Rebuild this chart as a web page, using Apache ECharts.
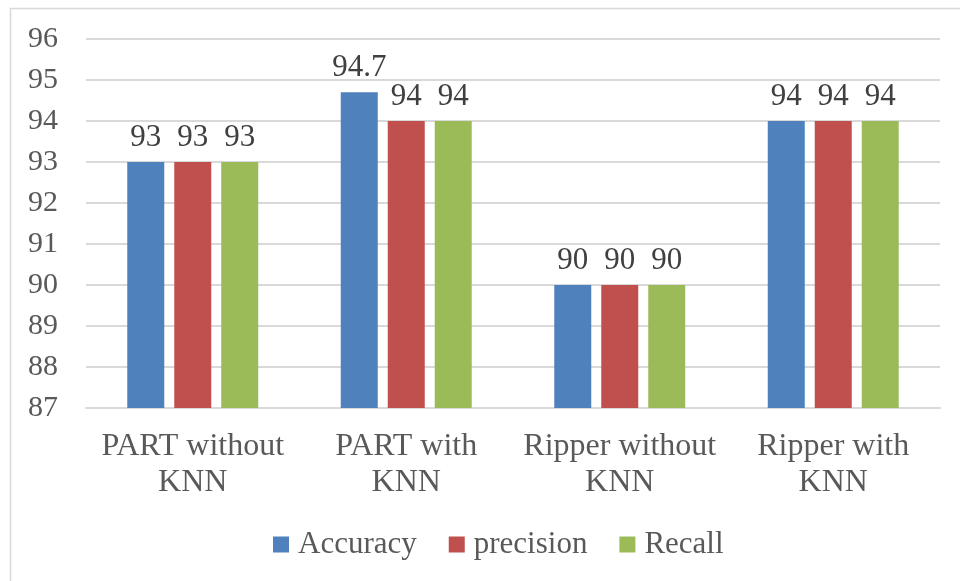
<!DOCTYPE html>
<html>
<head>
<meta charset="utf-8">
<script src="https://cdn.jsdelivr.net/npm/echarts@6/dist/echarts.min.js"></script>
<style>
  html, body { margin: 0; padding: 0; background: #fff; }
  #chart { width: 960px; height: 581px; }
</style>
</head>
<body>
<div id="chart"></div>
<script>
var categories = ['PART without\nKNN', 'PART with\nKNN', 'Ripper without\nKNN', 'Ripper with\nKNN'];
var accuracy = [93, 94.7, 90, 94];
var precision = [93, 94, 90, 94];
var recall = [93, 94, 90, 94];
var seriesNames = ['Accuracy', 'precision', 'Recall'];
var colors = ['#4F81BD', '#C0504D', '#9BBB59'];

var chartDom = document.getElementById('chart');
var myChart = echarts.init(chartDom);
var font = 'Liberation Serif, Times New Roman, serif';

function barSeries(name, data, color) {
  return {
    name: name,
    type: 'bar',
    data: data,
    barWidth: 37,
    barGap: '27%',
    itemStyle: { color: color },
    label: {
      show: true,
      position: 'top',
      distance: 9,
      color: '#404040',
      fontFamily: font,
      fontSize: 31
    }
  };
}

var option = {
  animation: false,
  color: colors,
  textStyle: { fontFamily: font },
  graphic: [{
    type: 'rect',
    shape: { x: 10.5, y: 8.5, width: 960, height: 600 },
    style: { fill: 'none', stroke: '#D9D9D9', lineWidth: 1.5 },
    silent: true
  }],
  grid: { left: 86, right: 20, top: 39, bottom: 173 },
  legend: {
    data: seriesNames,
    bottom: 16,
    left: 268,
    itemWidth: 16,
    itemHeight: 16,
    itemGap: 32,
    icon: 'rect',
    textStyle: { color: '#595959', fontFamily: font, fontSize: 31, padding: [0, 0, 0, 4] }
  },
  xAxis: {
    type: 'category',
    data: categories,
    axisLine: { lineStyle: { color: '#D9D9D9', width: 2 } },
    axisTick: { show: false },
    axisLabel: {
      color: '#595959',
      fontFamily: font,
      fontSize: 32,
      lineHeight: 36,
      margin: 21,
      interval: 0
    }
  },
  yAxis: {
    type: 'value',
    min: 87,
    max: 96,
    interval: 1,
    axisLine: { show: false },
    axisTick: { show: false },
    splitLine: { lineStyle: { color: '#D9D9D9', width: 2 } },
    axisLabel: {
      color: '#595959',
      fontFamily: font,
      fontSize: 30,
      margin: 28
    }
  },
  series: [
    barSeries(seriesNames[0], accuracy, colors[0]),
    barSeries(seriesNames[1], precision, colors[1]),
    barSeries(seriesNames[2], recall, colors[2])
  ]
};

myChart.setOption(option, true);
</script>
</body>
</html>
